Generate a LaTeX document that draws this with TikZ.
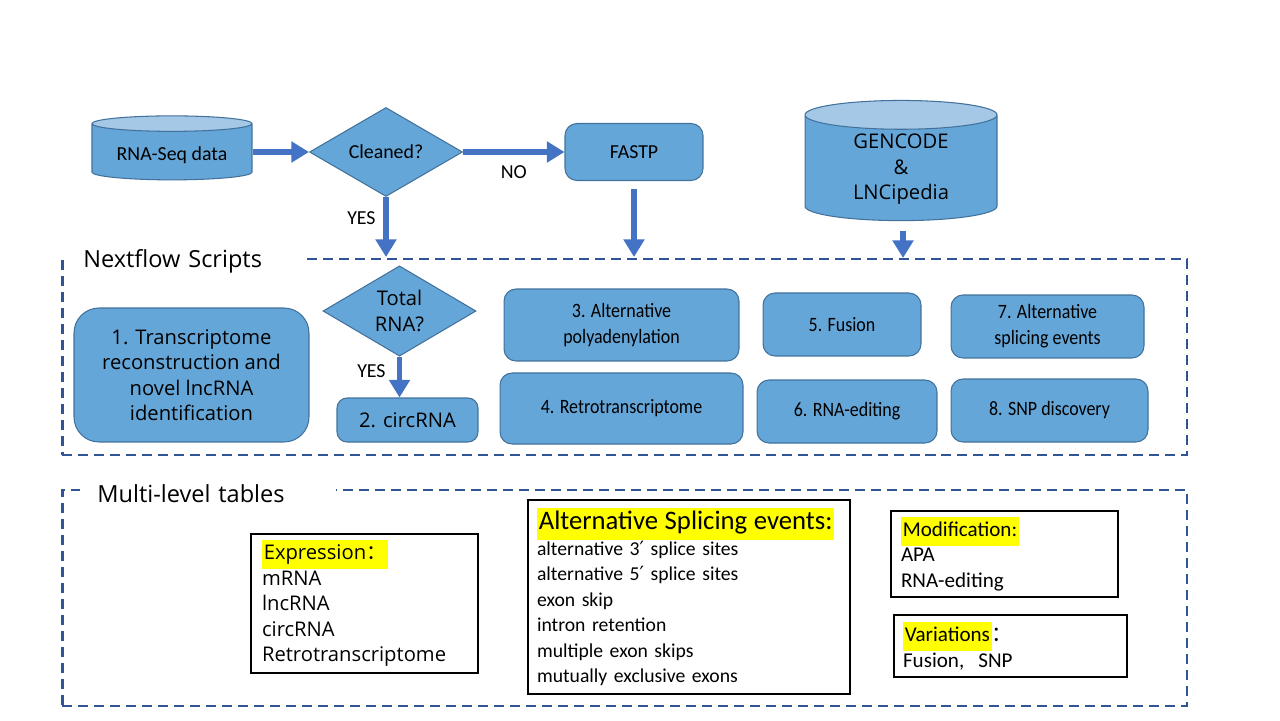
\documentclass[tikz,border=0pt]{standalone}
\usepackage{fontspec}
\setmainfont{Open Sans}
\newfontfamily\carlito{Carlito}
\newfontfamily\carlitonarrow[FakeStretch=0.88]{Carlito}
\newfontfamily\cjkfont{Noto Sans CJK SC}
\newfontfamily\symfont{DejaVu Sans}
\usetikzlibrary{arrows.meta, positioning, shapes.geometric}

\definecolor{boxfill}{HTML}{65A6D8}
\definecolor{boxline}{HTML}{41719C}
\definecolor{cyltop}{HTML}{A4C8E6}
\definecolor{arrowblue}{HTML}{4472C4}
\definecolor{framec}{HTML}{2F5597}
\definecolor{hlyellow}{HTML}{FFFF00}

\newcommand{\hlbox}[1]{{\setlength{\fboxsep}{1pt}\colorbox{hlyellow}{\strut #1}}}

\begin{document}
\begin{tikzpicture}[
  x=0.02cm, y=-0.02cm,
  font=\fontsize{11.5}{14.5}\selectfont,
  narrow/.style={font=\carlito\fontsize{11.3}{14.5}\selectfont},
  slim/.style={font=\carlitonarrow\fontsize{11.6}{14.8}\selectfont},
  proc/.style={draw=boxline, line width=0.6pt, fill=boxfill, rounded corners=0.24cm,
    align=center, inner sep=2pt},
  dec/.style={diamond, draw=boxline, line width=0.6pt, fill=boxfill, align=center, inner sep=0pt},
  db/.style={cylinder, shape border rotate=90, draw=boxline, line width=0.6pt,
    cylinder uses custom fill, cylinder body fill=boxfill, cylinder end fill=cyltop,
    align=center, inner sep=0pt},
  flow/.style={draw=arrowblue, line width=3.2pt, -{Triangle[length=10pt,width=11.5pt]}},
  frame/.style={draw=framec, line width=1.6pt, dash pattern=on 5.7pt off 3.4pt},
  framelbl/.style={fill=white, anchor=west, inner ysep=2pt, inner xsep=0.34cm,
    font=\fontsize{13.4}{16}\selectfont},
  tbl/.style={draw=black, line width=0.7pt, align=left, inner ysep=0pt}
]
\useasboundingbox (0,0) rectangle (1280,720);

% input and cleaning
\node[db, narrow, minimum width=3.2cm, minimum height=1.28cm, aspect=0.14] (rna) at (172,152)
  {\raisebox{-0.06cm}[\height][\depth]{RNA-Seq data}};
\node[dec, narrow, minimum width=3.06cm, minimum height=1.78cm] (clean) at (386,152) {Cleaned?};
\node[proc, narrow, minimum width=2.76cm, minimum height=1.14cm] (fastp) at (634,152) {FASTP};
\node[db, minimum width=3.84cm, minimum height=2.2cm, aspect=0.3] (gen) at (901,168)
  {\raisebox{-0.02cm}[\height][\depth]{\begin{tabular}{@{}c@{}}GENCODE\\\&\\LNCipedia\end{tabular}}};

% dashed frames
\node[frame, minimum width=22.5cm, minimum height=3.92cm] (nf) at (624.5,357) {};
\node[framelbl, text width=4.1cm] (nflbl) at (66,261) {Nextflow Scripts};
\node[frame, minimum width=22.5cm, minimum height=4.32cm] (ml) at (624.5,598) {};
\node[framelbl, text width=4.44cm] (mllbl) at (80,494) {Multi-level tables};

\coordinate (yesin) at (386,257);
\coordinate (fastpin) at (634,257);
\coordinate (genin) at (903,258);

\draw[flow] (rna.east |- clean) -- (clean.west);
\draw[flow] (clean.east) -- node[narrow, below=3pt] (no) {NO} (fastp.west);
\draw[flow] (clean.south) -- node[narrow, pos=0.35, left=1pt] (yes) {YES} (yesin);
\draw[flow] ([yshift=-0.16cm]fastp.south) -- (fastpin);
\draw[flow] ([yshift=-0.2cm]gen.south -| genin) -- (genin);

% scripts
\node[proc, rounded corners=0.5cm, minimum width=4.7cm, minimum height=2.68cm] (s1) at (191.5,375)
  {1. Transcriptome\\reconstruction and\\novel lncRNA\\identification};
\node[dec, minimum width=3.06cm, minimum height=1.64cm] (total) at (399.5,311) {Total\\RNA?};
\node[proc, rounded corners=0.2cm, minimum width=2.82cm, minimum height=0.88cm] (s2) at (407.5,420) {2. circRNA};
\draw[flow] (total.south) -- node[narrow, pos=0.35, left=3pt] (yes2) {YES} (total.south |- s2.north);

\node[proc, slim, minimum width=4.7cm, minimum height=1.44cm] (s3) at (621.5,325) {3. Alternative\\polyadenylation};
\node[proc, slim, minimum width=4.86cm, minimum height=1.42cm] (s4) at (621.5,408.5) {4. Retrotranscriptome};
\node[proc, slim, minimum width=3.16cm, minimum height=1.26cm] (s5) at (842,324.5) {5. Fusion};
\node[proc, slim, minimum width=3.6cm, minimum height=1.26cm] (s6) at (847,411.5) {6. RNA-editing};
\node[proc, slim, minimum width=3.86cm, minimum height=1.26cm] (s7) at (1047.5,326.5) {7. Alternative\\splicing events};
\node[proc, slim, minimum width=3.94cm, minimum height=1.26cm] (s8) at (1049.5,410.5) {8. SNP discovery};

% tables
\node[tbl, minimum width=4.54cm, minimum height=2.78cm, text width=4.1cm, inner xsep=0.22cm] (expr) at (364.5,603.5)
  {\hlbox{Expression{\cjkfont ：}}\\mRNA\\lncRNA\\circRNA\\Retrotranscriptome};
\node[tbl, minimum width=6.44cm, minimum height=3.88cm, text width=6.08cm, inner xsep=0.18cm,
  font=\carlito\fontsize{11.2}{14.5}\selectfont] (splice) at (689,597)
  {{\fontsize{15.2}{16}\selectfont\hlbox{Alternative Splicing events:}}\\
   alternative 3{\symfont ′} splice sites\\
   alternative 5{\symfont ′} splice sites\\
   exon skip\\intron retention\\multiple exon skips\\mutually exclusive exons};
\node[tbl, minimum width=4.54cm, minimum height=1.72cm, text width=4.14cm, inner xsep=0.2cm,
  font=\carlito\fontsize{12}{14.5}\selectfont] (modif) at (1004.5,554)
  {\hlbox{Modification:}\\APA\\RNA-editing};
\node[tbl, minimum width=4.66cm, minimum height=1.24cm, text width=4.3cm, inner xsep=0.18cm,
  font=\carlito\fontsize{12}{14.5}\selectfont] (variat) at (1010.5,646)
  {\hlbox{Variations}{\cjkfont ：}\\Fusion,\ \ SNP};
\end{tikzpicture}
\end{document}
